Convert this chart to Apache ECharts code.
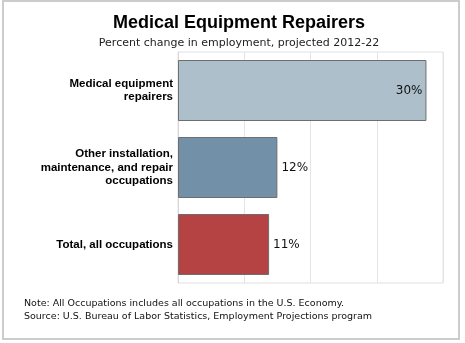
<!DOCTYPE html>
<html>
<head>
<meta charset="utf-8">
<script src="https://cdn.jsdelivr.net/npm/echarts@6/dist/echarts.min.js"></script>
<style>
  html, body { margin: 0; padding: 0; background: #fff; }
  #chart { width: 465px; height: 343px; }
</style>
</head>
<body>
<div id="chart"></div>
<script>
// Occupations, listed top to bottom
const categories = [
  'Medical equipment\nrepairers',
  'Other installation,\nmaintenance, and repair\noccupations',
  'Total, all occupations'
];
// Projected percent change in employment, 2012-22
const values = [30, 12, 11];
const barColors = ['#adbfca', '#7290a8', '#b54344'];
const labelPositions = ['insideRight', 'right', 'right'];

const titleText = 'Medical Equipment Repairers';
const subtitleText = 'Percent change in employment, projected 2012-22';
const noteText = 'Note: All Occupations includes all occupations in the U.S. Economy.';
const sourceText = 'Source: U.S. Bureau of Labor Statistics, Employment Projections program';

const chart = echarts.init(document.getElementById('chart'), null, { renderer: 'canvas' });

const option = {
  backgroundColor: '#fff',
  animation: false,
  title: {
    text: titleText,
    subtext: subtitleText,
    left: 234,
    textAlign: 'center',
    top: 9,
    itemGap: 6,
    textStyle: { fontFamily: 'Liberation Sans', fontWeight: 'bold', fontSize: 18, color: '#000' },
    subtextStyle: { fontFamily: 'DejaVu Sans', fontSize: 11, color: '#222' }
  },
  grid: {
    left: 178, right: 22, top: 52, bottom: 60,
    show: true, borderColor: '#e0e0e0', borderWidth: 1
  },
  xAxis: {
    type: 'value',
    min: 0, max: 32, interval: 8,
    axisLabel: { show: false },
    axisTick: { show: false },
    axisLine: { show: false },
    splitLine: { show: true, lineStyle: { color: '#e4e4e4', width: 1 } }
  },
  yAxis: {
    type: 'category',
    inverse: true,
    data: categories,
    axisTick: { show: false },
    axisLine: { show: true, lineStyle: { color: '#d8d8d8' } },
    axisLabel: {
      margin: 5,
      align: 'right',
      fontFamily: 'Liberation Sans',
      fontWeight: 'bold',
      fontSize: 11.5,
      lineHeight: 13.5,
      color: '#000'
    }
  },
  series: [{
    type: 'bar',
    barWidth: 61,
    data: values.map((v, i) => ({
      value: v,
      itemStyle: { color: barColors[i] },
      label: { position: labelPositions[i] }
    })),
    itemStyle: { borderColor: '#6e6e6e', borderWidth: 1 },
    label: {
      show: true,
      formatter: '{c}%',
      distance: 4,
      fontFamily: 'DejaVu Sans',
      fontSize: 12,
      color: '#111'
    }
  }],
  graphic: [
    {
      type: 'rect',
      shape: { x: 3, y: 1, width: 456, height: 338 },
      style: { fill: null, stroke: '#cccccc', lineWidth: 2 },
      silent: true
    },
    {
      type: 'text', left: 24, top: 299,
      style: { text: noteText, font: '9.5px "DejaVu Sans"', fill: '#111' }
    },
    {
      type: 'text', left: 24, top: 312,
      style: { text: sourceText, font: '9.5px "DejaVu Sans"', fill: '#111' }
    }
  ]
};

chart.setOption(option);
</script>
</body>
</html>
